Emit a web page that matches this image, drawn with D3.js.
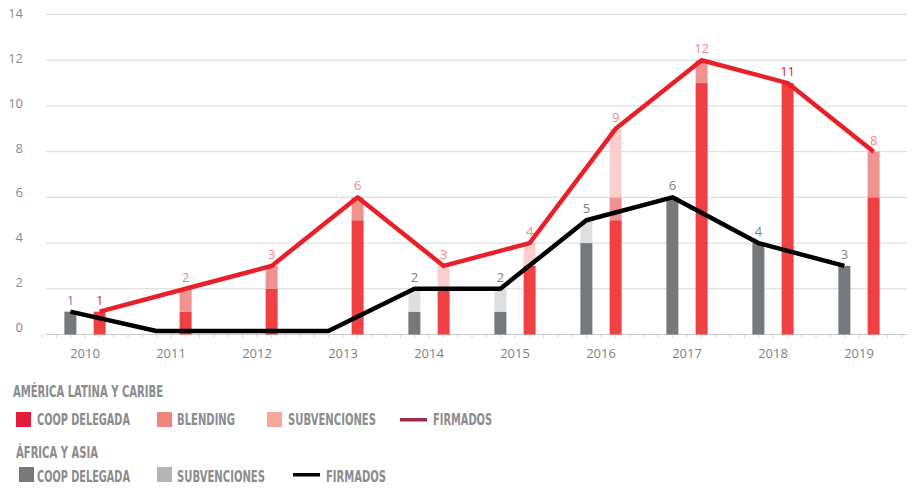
<!DOCTYPE html>
<html>
<head>
<meta charset="utf-8">
<script src="https://cdn.jsdelivr.net/npm/d3@7"></script>
<style>
  body { margin: 0; background: #fff; }
  svg { display: block; }
</style>
</head>
<body>
<div id="chart"></div>
<script>
// data
var years = [2010, 2011, 2012, 2013, 2014, 2015, 2016, 2017, 2018, 2019];
var latCoop = [1, 1, 2, 5, 2, 3, 5, 11, 11, 6];
var latBlending = [0, 1, 1, 1, 0, 0, 1, 1, 0, 2];
var latSubv = [0, 0, 0, 0, 1, 1, 3, 0, 0, 0];
var latFirmados = [1, 2, 3, 6, 3, 4, 9, 12, 11, 8];
var afCoop = [1, 0, 0, 0, 1, 1, 4, 6, 4, 3];
var afSubv = [0, 0, 0, 0, 1, 1, 1, 0, 0, 0];
var afFirmados = [1, 0, 0, 0, 2, 2, 5, 6, 4, 3];
var yTicks = [0, 2, 4, 6, 8, 10, 12, 14];

const width = 914, height = 489;
const svg = d3.select("#chart").append("svg")
    .attr("width", width)
    .attr("height", height);

// scales
const x = d3.scaleLinear().domain([2010, 2019]).range([85, 859]);
const y = d3.scaleLinear().domain([0, 14]).range([334.5, 14.5]);
// tick labels sit on a slightly tighter scale than the gridlines
const yLab = d3.scaleLinear().domain([0, 14]).range([327.5, 13.3]);
const off = 0.17; // bar offset from year centre, in years
const barW = 12;

const numFont = "'Open Sans', 'Noto Sans', sans-serif";

// gridlines
svg.append("g")
    .selectAll("line")
    .data(yTicks)
    .enter().append("line")
    .attr("x1", 46).attr("x2", 907)
    .attr("y1", d => y(d)).attr("y2", d => y(d))
    .attr("stroke", d => d === 0 ? "#c9c9c9" : "#d9d9d9")
    .attr("stroke-width", 1);

// y labels
svg.append("g")
    .selectAll("text")
    .data(yTicks)
    .enter().append("text")
    .attr("x", 23)
    .attr("y", d => yLab(d))
    .attr("dy", "0.35em")
    .attr("text-anchor", "end")
    .style("font-family", numFont)
    .style("font-size", "13px")
    .style("fill", "#8a8c8e")
    .text(d => d);

// minor x ticks
const minor = d3.range(-3, 58).map(k => 2010 + k / 6);
svg.append("g")
    .selectAll("line")
    .data(minor)
    .enter().append("line")
    .attr("x1", d => x(d)).attr("x2", d => x(d))
    .attr("y1", y(0)).attr("y2", y(0) + 3)
    .attr("stroke", "#cfcfcf")
    .attr("stroke-width", 1);

// year labels
svg.append("g")
    .selectAll("text")
    .data(years)
    .enter().append("text")
    .attr("x", d => x(d))
    .attr("y", 358)
    .attr("text-anchor", "middle")
    .style("font-family", numFont)
    .style("font-size", "13px")
    .style("fill", "#808285")
    .text(d => d);

// stacked bars
function drawStack(layers, colors, xOff) {
    const g = svg.append("g");
    years.forEach(function (yr, i) {
        let base = 0;
        layers.forEach(function (layer, j) {
            const v = layer[i];
            if (v > 0) {
                g.append("rect")
                    .attr("x", x(yr + xOff) - barW / 2)
                    .attr("y", y(base + v))
                    .attr("width", barW)
                    .attr("height", y(base) - y(base + v))
                    .style("fill", colors[j]);
            }
            base += v;
        });
    });
}
drawStack([afCoop, afSubv], ["#76797b", "#dedfe0"], -off);
drawStack([latCoop, latBlending, latSubv], ["#ef4044", "#ef9391", "#fbcfcd"], off);

// value labels
svg.append("g")
    .selectAll("text")
    .data(years.filter((d, i) => afFirmados[i] > 0))
    .enter().append("text")
    .attr("x", d => x(d - off))
    .attr("y", d => y(afFirmados[years.indexOf(d)]) - 7)
    .attr("text-anchor", "middle")
    .style("font-family", numFont)
    .style("font-size", "13px")
    .style("fill", "#808285")
    .text(d => afFirmados[years.indexOf(d)]);

svg.append("g")
    .selectAll("text")
    .data(years)
    .enter().append("text")
    .attr("x", d => x(d + off))
    .attr("y", (d, i) => y(latFirmados[i]) - 7)
    .attr("text-anchor", "middle")
    .style("font-family", numFont)
    .style("font-size", "13px")
    .style("fill", (d, i) => (latBlending[i] + latSubv[i]) === 0 ? "#e0262d" : "#f28a86")
    .text((d, i) => latFirmados[i]);

// lines
const latLine = d3.line()
    .x((d, i) => x(years[i] + off))
    .y(d => y(d));
const afLine = d3.line()
    .x((d, i) => x(years[i] - off))
    .y(d => Math.min(y(d), y(0) - 3.5)); // keep zero off the axis

svg.append("path")
    .datum(latFirmados)
    .attr("d", latLine)
    .attr("fill", "none")
    .attr("stroke", "#e8202a")
    .attr("stroke-width", 4.5)
    .attr("stroke-linejoin", "round");

svg.append("path")
    .datum(afFirmados)
    .attr("d", afLine)
    .attr("fill", "none")
    .attr("stroke", "#000")
    .attr("stroke-width", 4.5)
    .attr("stroke-linejoin", "round");

// legend
const legFont = "'Liberation Sans Narrow', 'DejaVu Sans Condensed', 'Roboto', sans-serif";
const legColor = "#8a8c8e";

function legText(txt, lx, ly, len) {
    svg.append("text")
        .attr("x", lx)
        .attr("y", ly)
        .attr("textLength", len)
        .attr("lengthAdjust", "spacingAndGlyphs")
        .style("font-family", legFont)
        .style("font-weight", "bold")
        .style("font-size", "16px")
        .style("fill", legColor)
        .text(txt);
}

legText("AMÉRICA LATINA Y CARIBE", 13, 397, 150);
legText("ÁFRICA Y ASIA", 16, 458, 82);

var latItems = [
    { label: "COOP DELEGADA", color: "#e31b3d", type: "rect", x: 16, tx: 37, len: 93 },
    { label: "BLENDING", color: "#f2847c", type: "rect", x: 157, tx: 177, len: 58 },
    { label: "SUBVENCIONES", color: "#f6a7a0", type: "rect", x: 267, tx: 288, len: 88 },
    { label: "FIRMADOS", color: "#9b2a47", type: "line", x: 400, tx: 433, len: 59 }
];
var afItems = [
    { label: "COOP DELEGADA", color: "#76787a", type: "rect", x: 19, tx: 37, len: 93 },
    { label: "SUBVENCIONES", color: "#b5b5b6", type: "rect", x: 157, tx: 177, len: 88 },
    { label: "FIRMADOS", color: "#000000", type: "line", x: 293, tx: 326, len: 60 }
];

function legRow(items, top, base) {
    items.forEach(function (it) {
        if (it.type === "rect") {
            svg.append("rect")
                .attr("x", it.x).attr("y", top)
                .attr("width", 15).attr("height", 15)
                .style("fill", it.color);
        } else {
            svg.append("rect")
                .attr("x", it.x).attr("y", top + 6)
                .attr("width", 27).attr("height", 3.5)
                .style("fill", it.color);
        }
        legText(it.label, it.tx, base, it.len);
    });
}
legRow(latItems, 412, 425);
legRow(afItems, 467, 482);
</script>
</body>
</html>
